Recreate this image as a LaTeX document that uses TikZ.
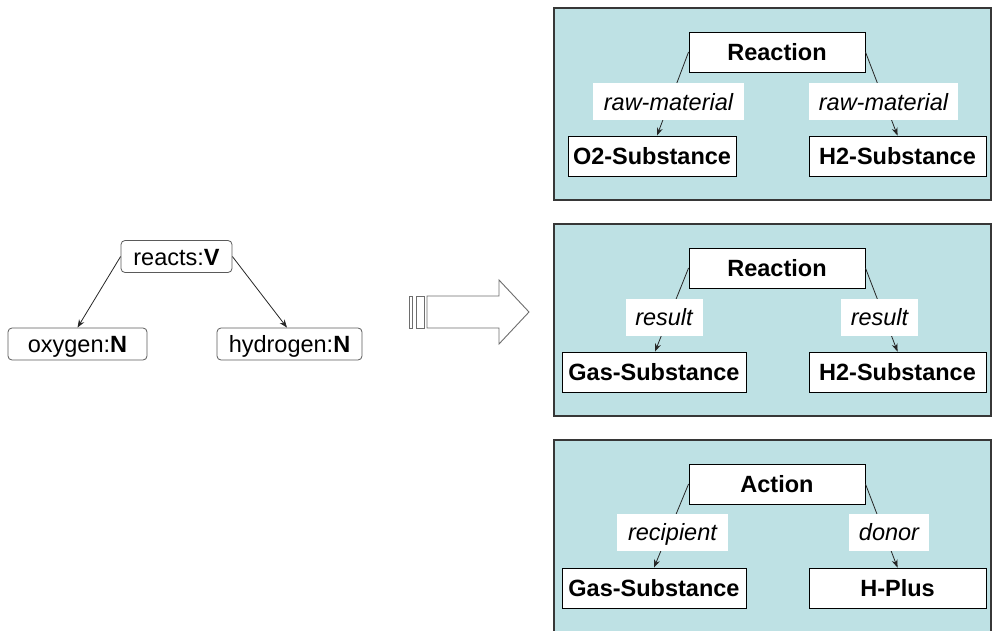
\documentclass[tikz,border=0pt]{standalone}
\usepackage{fontspec}
\setmainfont{Liberation Sans}
\usetikzlibrary{arrows.meta,calc}
\definecolor{panelfill}{RGB}{190,225,228}
\definecolor{panelline}{RGB}{55,55,55}
\definecolor{rndline}{RGB}{90,90,90}
\definecolor{arrline}{RGB}{110,110,110}
\begin{document}
\begin{tikzpicture}[x=1pt,y=-1pt,
  every node/.style={font=\fontsize{23.5}{28}\selectfont, inner sep=0pt, text height=17pt, text depth=0pt},
  concept/.style={draw=black, fill=white, line width=0.9pt, font=\fontsize{23.5}{28}\selectfont\bfseries, minimum height=40pt},
  rel/.style={fill=white, font=\fontsize{23.5}{28}\selectfont\itshape, minimum height=37pt},
  word/.style={draw=rndline, fill=white, rounded corners=4pt, line width=0.8pt, minimum height=32pt},
  edge/.style={draw=black!85, line width=0.8pt, -{Stealth[length=8pt,width=6pt]}},
  panel/.style={fill=panelfill, draw=panelline, line width=1.4pt}]
\useasboundingbox (0,0) rectangle (992,631);

% panels
\draw[panel] (554,8) rectangle (991,200);
\draw[panel] (554,224) rectangle (991,416);
\fill[panelfill] (554,440) rectangle (991,633);
\draw[panelline, line width=1.4pt] (554,633) -- (554,440) -- (991,440) -- (991,633);

% left graph
\node[word, minimum width=111pt] (reacts) at (176.5,256.5) {reacts:\textbf{V}};
\node[word, minimum width=139pt] (oxy) at (77.5,344) {oxygen:\textbf{N}};
\node[word, minimum width=145pt] (hyd) at (289.5,344) {hydrogen:\textbf{N}};
\draw[edge] (reacts.west) -- (oxy.north);
\draw[edge] (reacts.east) -- ($(hyd.north)+(-2.5,0)$);

% block arrow
\draw[arrline, fill=white, line width=0.9pt] (409,296) rectangle (412,328);
\draw[arrline, fill=white, line width=0.9pt] (416,296) rectangle (424,328);
\draw[arrline, fill=white, line width=0.9pt, line join=miter]
  (427,296) -- (499,296) -- (499,280) -- (529,312) -- (499,344) -- (499,328) -- (427,328) -- cycle;

% panel 1
\node[concept, minimum width=176pt] (r1) at (777,52) {Reaction};
\node[concept, minimum width=168pt] (o2) at (652,156) {O2-Substance};
\node[concept, minimum width=177pt] (h2a) at (897.5,156) {H2-Substance};
\draw[edge] (r1.west) -- ($(o2.north)+(5,0)$);
\draw[edge] (r1.east) -- (h2a.north);
\node[rel, minimum width=151pt] (l1a) at (668.5,102) {raw-material};
\node[rel, minimum width=149pt] (l1b) at (883.5,102) {raw-material};

% panel 2
\node[concept, minimum width=176pt] (r2) at (777,268) {Reaction};
\node[concept, minimum width=184pt] (gas2) at (654,372) {Gas-Substance};
\node[concept, minimum width=177pt] (h2b) at (897.5,372) {H2-Substance};
\draw[edge] (r2.west) -- ($(gas2.north)+(1,0)$);
\draw[edge] (r2.east) -- (h2b.north);
\node[rel, minimum width=77pt] (l2a) at (664,317) {result};
\node[rel, minimum width=77pt] (l2b) at (879.5,317) {result};

% panel 3
\node[concept, minimum width=176pt] (act) at (777,484) {Action};
\node[concept, minimum width=184pt] (gas3) at (654,588) {Gas-Substance};
\node[concept, minimum width=177pt] (hp) at (897.5,588) {H-Plus};
\draw[edge] (act.west) -- (gas3.north);
\draw[edge] (act.east) -- (hp.north);
\node[rel, minimum width=111pt] (l3a) at (672.5,532) {recipient};
\node[rel, minimum width=80pt] (l3b) at (889,532) {donor};
\end{tikzpicture}
\end{document}
